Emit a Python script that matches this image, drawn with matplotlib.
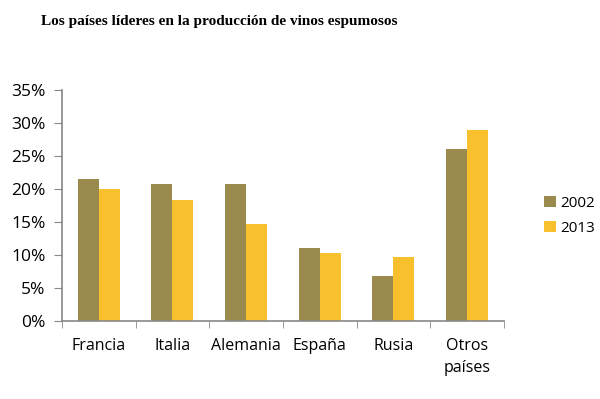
import matplotlib
matplotlib.use("Agg")
import matplotlib.pyplot as plt
import numpy as np

categories = ["Francia", "Italia", "Alemania", "España", "Rusia", "Otros\npaíses"]
series_names = ["2002", "2013"]
values_2002 = [21.5, 20.8, 20.8, 11.0, 6.8, 26.0]
values_2013 = [20.0, 18.3, 14.7, 10.3, 9.7, 29.0]
yticks = [0, 5, 10, 15, 20, 25, 30, 35]
ytick_labels = ["0%", "5%", "10%", "15%", "20%", "25%", "30%", "35%"]

c2002 = "#9A8A4E"
c2013 = "#F9C02E"
axis_color = "#888888"

fig = plt.figure(figsize=(6.0, 3.99), dpi=100)
ax = fig.add_axes([0.1033, 0.1955, 0.7367, 0.579])

x = np.arange(len(categories))
w = 0.285
ax.bar(x - w / 2, values_2002, width=w, color=c2002, label=series_names[0])
ax.bar(x + w / 2, values_2013, width=w, color=c2013, label=series_names[1])

ax.set_xlim(-0.5, len(categories) - 0.5)
ax.set_ylim(0, 35)
ax.set_yticks(yticks)
ax.set_yticklabels(ytick_labels)

ax.set_xticks(x)
ax.set_xticklabels(categories, fontfamily="Open Sans", fontsize=11.5, linespacing=1.5, va="top")
ax.tick_params(axis="x", length=0, pad=12)
ax.set_xticks(np.arange(-0.5, len(categories), 1.0), minor=True)
ax.tick_params(axis="x", which="minor", length=5, color=axis_color, direction="out")
ax.tick_params(axis="y", length=6, color=axis_color, direction="out", pad=6)
for lbl in ax.get_yticklabels():
    lbl.set_fontfamily("Open Sans")
    lbl.set_fontsize(12.5)

for s in ["top", "right"]:
    ax.spines[s].set_visible(False)
for s in ["left", "bottom"]:
    ax.spines[s].set_color(axis_color)
    ax.spines[s].set_linewidth(1.2)

leg = ax.legend(loc="center left", bbox_to_anchor=(1.06, 0.455), frameon=False,
                prop={"family": "Open Sans", "size": 11},
                handlelength=0.75, handleheight=0.75, handletextpad=0.3, labelspacing=0.7)

fig.text(0.068, 0.946, "Los países líderes en la producción de vinos espumosos",
         fontfamily="Liberation Serif", fontweight="bold", fontsize=11, va="center", ha="left")

fig.savefig("out.png", dpi=100)
